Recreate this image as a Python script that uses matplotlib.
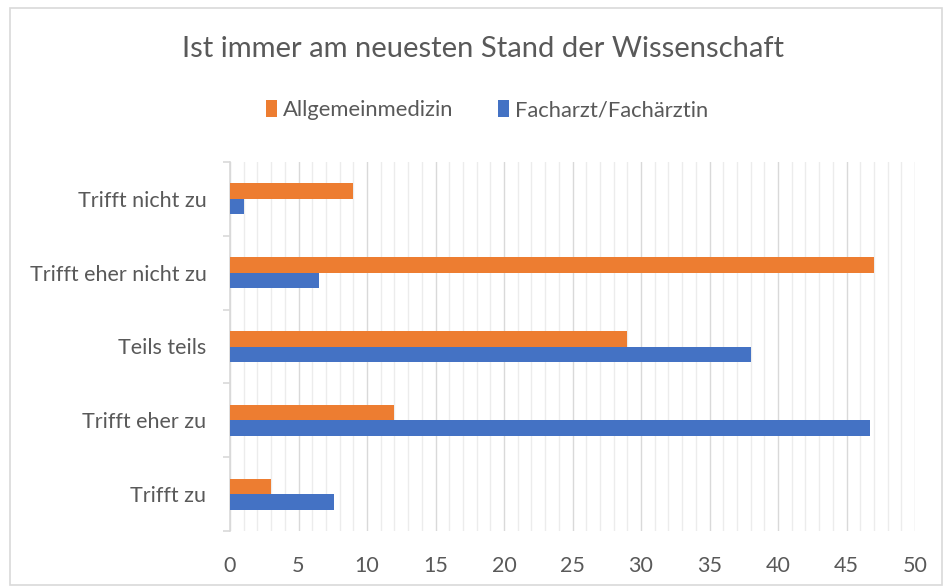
import matplotlib
matplotlib.use("Agg")
import matplotlib.pyplot as plt
from matplotlib.patches import Rectangle
import numpy as np

categories = ["Trifft zu", "Trifft eher zu", "Teils teils", "Trifft eher nicht zu", "Trifft nicht zu"]
allgemein = [3, 12, 29, 47, 9]
facharzt = [7.6, 46.7, 38, 6.5, 1]
series_names = ["Allgemeinmedizin", "Facharzt/Fachärztin"]
title = "Ist immer am neuesten Stand der Wissenschaft"
xticks = [0, 5, 10, 15, 20, 25, 30, 35, 40, 45, 50]

plt.rcParams['font.family'] = ['Lato', 'DejaVu Sans']

W, H = 943, 586
fig = plt.figure(figsize=(W / 100, H / 100), dpi=100)
fig.patch.set_facecolor("white")

# chart border
fig.patches.append(Rectangle((10 / W, 1 - 585 / H), (942 - 10) / W, (585 - 8) / H,
                             transform=fig.transFigure, fill=False,
                             edgecolor="#d9d9d9", linewidth=1.2))

ax = fig.add_axes([230 / W, 1 - 531 / H, (915 - 230) / W, (531 - 162) / H])

y = np.arange(len(categories))
h = 0.21
c_or = "#ed7d31"
c_bl = "#4472c4"
ax.barh(y + h / 2, allgemein, height=h, color=c_or, label=series_names[0], zorder=3)
ax.barh(y - h / 2, facharzt, height=h, color=c_bl, label=series_names[1], zorder=3)

ax.set_xlim(0, 50)
ax.set_ylim(-0.5, len(categories) - 0.5)
ax.set_xticks(xticks)
ax.set_xticks(np.arange(0, 51, 1), minor=True)
ax.grid(axis="x", which="minor", color="#ececec", linewidth=1.0, zorder=0)
ax.grid(axis="x", which="major", color="#d9d9d9", linewidth=1.0, zorder=1)
ax.tick_params(axis="x", which="both", length=0, labelsize=15.5, labelcolor="#595959", pad=18)

# category labels at centers, ticks at boundaries
ax.set_yticks(y)
ax.set_yticklabels(categories)
ax.tick_params(axis="y", which="major", length=0, labelsize=15.5, labelcolor="#595959", pad=17)
ax.set_yticks(np.arange(-0.5, len(categories), 1), minor=True)
ax.tick_params(axis="y", which="minor", length=5, color="#d9d9d9", width=1.2, direction="out")

for s in ["top", "right", "bottom"]:
    ax.spines[s].set_visible(False)
ax.spines["left"].set_color("#d9d9d9")
ax.spines["left"].set_linewidth(1.2)

fig.text(483 / W, 1 - 49 / H, title, ha="center", va="center", fontsize=21,
         color="#595959")

handles, labels = ax.get_legend_handles_labels()
fig.legend(handles, labels, loc="center", bbox_to_anchor=(487 / W, 1 - 110 / H), ncol=2,
           frameon=False, fontsize=15.8, labelcolor="#595959", handlelength=0.5,
           handleheight=0.8, handletextpad=0.3, columnspacing=2.0)

fig.savefig("out.png", dpi=100)
